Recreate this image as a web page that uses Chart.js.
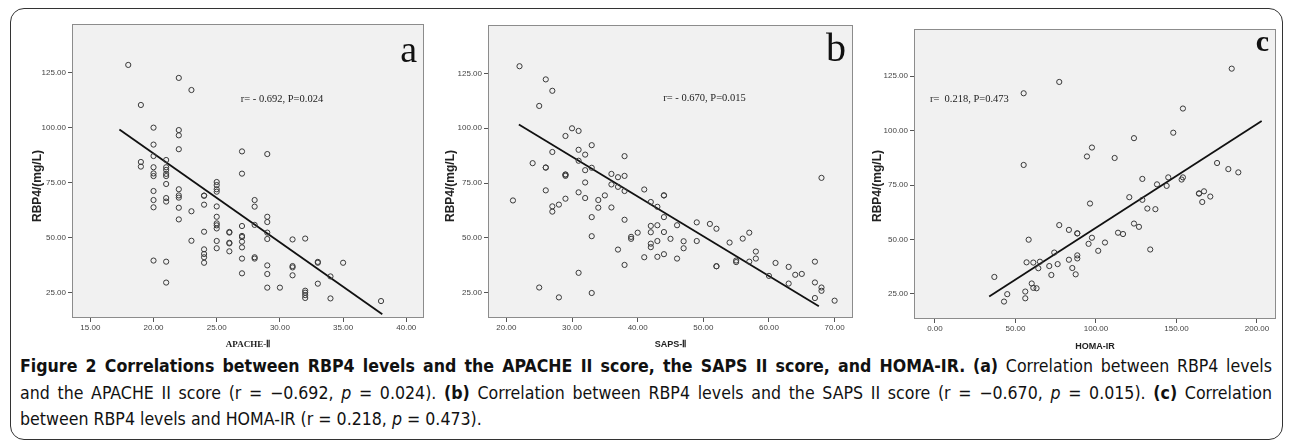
<!DOCTYPE html>
<html>
<head>
<meta charset="utf-8">
<script src="https://cdn.jsdelivr.net/npm/chart.js@4.4.0/dist/chart.umd.min.js"></script>
<style>
body{margin:0;background:#fff;width:1290px;height:445px;position:relative;overflow:hidden}
#frame{position:absolute;left:10px;top:8px;width:1273px;height:432px;border:1.5px solid #333;border-radius:14px;box-sizing:border-box}
.panel{position:absolute;top:0}
#caption{position:absolute;left:20px;top:353px;width:1252px;font-family:'Liberation Sans Narrow','DejaVu Sans Condensed',sans-serif;font-size:17.6px;color:#111}
#caption div{height:26.5px;line-height:26.5px;white-space:nowrap}
#caption .j{text-align:justify;text-align-last:justify}
</style>
</head>
<body>
<div id="frame"></div>
<canvas id="chartA" class="panel" width="420" height="352" style="left:20px"></canvas>
<canvas id="chartB" class="panel" width="430" height="352" style="left:440px"></canvas>
<canvas id="chartC" class="panel" width="420" height="352" style="left:870px"></canvas>
<div id="caption">
<div class="j"><b>Figure 2 Correlations between RBP4 levels and the APACHE II score, the SAPS II score, and HOMA-IR.</b> <b>(a)</b> Correlation between RBP4 levels</div>
<div class="j">and the APACHE II score (r = −0.692, <i>p</i> = 0.024). <b>(b)</b> Correlation between RBP4 levels and the SAPS II score (r = −0.670, <i>p</i> = 0.015). <b>(c)</b> Correlation</div>
<div>between RBP4 levels and HOMA-IR (r = 0.218, <i>p</i> = 0.473).</div>
</div>
<script>
// panel a : APACHE-II vs RBP4
const aX = [18,
	19,19,19,
	20,20,20,20,20,20,20,20,20,20,
	21,21,21,21,21,21,21,21,21,21,
	22,22,22,22,22,22,22,22,22,
	23,23,23,
	24,24,24,24,24,24,24,24,
	25,25,25,25,25,25,25,25,25,25,25,
	26,26,26,26,26,
	27,27,27,27,27,27,27,27,27,
	28,28,28,28,28,
	29,29,29,29,29,29,29,29,
	30,
	31,31,31,31,
	32,32,32,32,32,
	33,33,33,
	34,34,
	35,
	38];
const aY = [128.5,
	110.3,84.4,82.3,
	100,92.3,87.1,82,79.2,78,71.2,67.1,63.8,39.6,
	85.3,82,80.8,79,78,74.4,68,66.4,39.1,29.6,
	122.6,98.9,96.5,90.2,72,69.2,68.2,63.6,58.3,
	117.1,62,48.6,
	69.1,69.1,65,52.7,44.7,42.6,41.1,38.6,
	75.3,73.9,72,70.9,64.2,59.5,56.5,55.6,54.2,48.5,45.2,
	52.6,52.3,47.7,47.4,43.8,
	89.2,79.1,55.3,50.8,50.3,48.2,45.6,40.5,33.8,
	67.1,64.1,55.8,41.1,40.5,
	88,59.5,57.1,52.3,49.4,37.4,33.5,27.3,
	27.3,
	49.2,37.1,36.5,32.9,
	49.6,25.9,25,23.9,22.6,
	39,38.6,29.1,
	32.4,22.4,
	38.6,
	21.2];
const aFitX = [17.3, 38.1];
const aFitY = [99.2, 15.2];
const aTicksX = [15, 20, 25, 30, 35, 40];

// panel b : SAPS-II vs RBP4
const bX = [22,26,27,25,30,31,29,27,31,32,33,38,24,26,26,29,29,29,31,32,33,36,37,38,36,37,38,32,31,26,
	32,35,34,34,36,29,28,27,27,21,33,38,33,31,25,28,33,41,42,43,44,44,44,42,43,42,44,40,39,39,
	45,46,43,42,42,37,47,47,41,43,44,46,38,49,49,51,52,52,52,54,56,57,55,55,57,58,58,60,61,63,
	63,64,65,67,67,67,68,68,68,70];
const bY = [128.3,122.3,117.1,110.2,100,98.8,96.5,89.2,90.2,88,92.3,87.3,84.1,82.1,82.1,78.9,78.9,78.3,85.2,80.9,82,79.2,77.7,78.3,74.4,73.3,71.4,75.3,70.8,71.7,
	68.2,69.4,67.3,63.8,63.9,67.9,65.2,64.4,62,67.1,59.5,58.3,50.8,34.1,27.4,22.9,24.9,72.1,66.4,64.2,69.4,69.4,59.5,55.5,55.8,52.6,52.7,52.4,50.5,49.6,
	49.6,55.8,48.6,47.4,45.8,44.7,48.5,45.3,41.2,41.4,42.6,40.6,37.7,57.1,48.6,56.4,54.2,37.1,37.1,47.9,49.7,52.4,39.7,39,39.2,43.8,40.6,32.7,38.6,36.8,
	29.2,33.2,33.6,39.2,29.7,22.6,77.4,27.4,25.9,21.4];
const bFitX = [21.9, 67.6];
const bFitY = [101.7, 18.9];
const bTicksX = [20, 30, 40, 50, 60, 70];

// panel c : HOMA-IR vs RBP4
const cX = [184.3,77.2,55.1,154,148,123.6,97.5,94.4,111.6,55.1,175.2,182.2,188.4,128.8,144.9,154,153.2,137.9,143.9,164,164,167.1,171,166,
	120.7,128.8,96.3,131.9,136.9,123.6,126.7,77.2,83.2,88.4,88.4,113.7,116.8,58.2,97.5,95.4,105.6,101.4,133.7,74.1,88.4,88.4,
	56.9,61.1,65.2,64.2,71,76.2,83.2,85.3,72.3,87.4,36.9,60.1,61.1,63.1,56.1,56.1,44.9,42.9];
const cY = [128.4,122.3,117.1,110.1,99,96.5,92.2,88.1,87.4,84.2,85.1,82.3,80.8,77.8,78.5,78.5,77.5,75.3,74.6,71.1,71.1,72.1,69.7,67.2,
	69.4,68.2,66.5,64.2,63.9,57.3,55.8,56.6,54.4,52.8,52.8,53.1,52.5,49.9,50.8,48,48.6,44.8,45.4,44,42.7,41.3,
	39.5,39.4,39.8,36.8,37.8,38.7,40.7,36.9,33.7,34,32.8,29.8,27.8,27.6,26.1,23,24.9,21.5];
const cFitX = [33.7, 202.9];
const cFitY = [23.8, 104.4];
const cTicksX = [0, 50, 100, 150, 200];

const yTicks = [25, 50, 75, 100, 125];

const pts = (xs, ys) => xs.map((x, i) => ({x: x, y: ys[i]}));

// plot background, frame, panel letter, r/P note and rotated y title
const panelDecor = {
	id: 'panelDecor',
	beforeDraw(chart, args, o) {
		const a = chart.chartArea;
		const ctx = chart.ctx;
		ctx.save();
		ctx.fillStyle = '#f1f1f1';
		ctx.fillRect(a.left, a.top, a.right - a.left, a.bottom - a.top);
		ctx.restore();
	},
	afterDraw(chart, args, o) {
		const a = chart.chartArea;
		const ctx = chart.ctx;
		ctx.save();
		ctx.strokeStyle = '#8c8c8c';
		ctx.lineWidth = 1;
		ctx.strokeRect(a.left + 0.5, a.top + 0.5, a.right - a.left - 1, a.bottom - a.top - 1);

		ctx.fillStyle = '#111';
		ctx.font = o.letterFont;
		ctx.textAlign = 'right';
		ctx.textBaseline = 'alphabetic';
		ctx.fillText(o.letter, a.right - 7, a.top + o.letterDy);

		ctx.fillStyle = '#222';
		ctx.font = '10.5px "Liberation Serif", serif';
		ctx.textAlign = 'left';
		ctx.textBaseline = 'middle';
		ctx.fillText(o.note, chart.scales.x.getPixelForValue(o.noteX), chart.scales.y.getPixelForValue(o.noteY));

		ctx.translate(o.yTitleX, 186);
		ctx.rotate(-Math.PI / 2);
		ctx.font = 'bold 12px "Liberation Sans", Arial, sans-serif';
		ctx.textAlign = 'center';
		ctx.fillText('RBP4/(mg/L)', 0, 0);
		ctx.restore();
	}
};

function makePanel(id, cfg) {
	return new Chart(document.getElementById(id), {
		type: 'scatter',
		data: {
			datasets: [{
				data: cfg.points,
				pointRadius: 2.6,
				borderWidth: 1,
				borderColor: '#3a3a3a',
				backgroundColor: 'rgba(0,0,0,0)'
			}, {
				type: 'line',
				data: cfg.fit,
				borderColor: '#111',
				borderWidth: 1.8,
				pointRadius: 0,
				fill: false
			}]
		},
		options: {
			responsive: false,
			animation: false,
			layout: {padding: {left: 0, top: cfg.padTop, right: cfg.padRight, bottom: 0}},
			plugins: {
				legend: {display: false},
				tooltip: {enabled: false},
				panelDecor: cfg.decor
			},
			scales: {
				x: {
					type: 'linear',
					min: cfg.xMin,
					max: cfg.xMax,
					afterBuildTicks: s => { s.ticks = cfg.xTicks.map(v => ({value: v})); },
					afterFit: s => { s.height = cfg.xHeight; },
					grid: {drawOnChartArea: false, tickLength: 4, color: '#555'},
					border: {display: false},
					ticks: {
						autoSkip: false, maxRotation: 0, padding: 1, color: '#444',
						font: {family: 'Liberation Sans', size: 8},
						callback: v => v.toFixed(2)
					},
					title: {
						display: true, text: cfg.xTitle, color: '#222',
						font: cfg.xTitleFont, padding: {top: 0, bottom: cfg.xTitlePad}
					}
				},
				y: {
					type: 'linear',
					min: cfg.yMin,
					max: cfg.yMax,
					afterBuildTicks: s => { s.ticks = yTicks.map(v => ({value: v})); },
					afterFit: s => { s.width = cfg.yWidth; },
					grid: {drawOnChartArea: false, tickLength: 4, color: '#555'},
					border: {display: false},
					ticks: {
						autoSkip: false, padding: 2, color: '#444',
						font: {family: 'Liberation Sans', size: 8},
						callback: v => v.toFixed(2)
					}
				}
			}
		},
		plugins: [panelDecor]
	});
}

makePanel('chartA', {
	points: pts(aX, aY),
	fit: pts(aFitX, aFitY),
	xTicks: aTicksX,
	xMin: 13.55, xMax: 41.4, yMin: 13.5, yMax: 147.1,
	padTop: 24, padRight: 16, xHeight: 34, yWidth: 52,
	xTitle: 'APACHE-Ⅱ', xTitlePad: 2,
	xTitleFont: {family: 'Liberation Serif', size: 9, weight: 'bold'},
	decor: {letter: 'a', letterFont: '38px "Liberation Serif", serif', letterDy: 38,
		note: 'r= - 0.692, P=0.024', noteX: 26.9, noteY: 113, yTitleX: 18}
});

makePanel('chartB', {
	points: pts(bX, bY),
	fit: pts(bFitX, bFitY),
	xTicks: bTicksX,
	xMin: 17.2, xMax: 72.8, yMin: 13.5, yMax: 147.1,
	padTop: 25, padRight: 17, xHeight: 34, yWidth: 48,
	xTitle: 'SAPS-Ⅱ', xTitlePad: 2,
	xTitleFont: {family: 'Liberation Sans', size: 9, weight: 'bold'},
	decor: {letter: 'b', letterFont: '40px "Liberation Serif", serif', letterDy: 36,
		note: 'r= - 0.670, P=0.015', noteX: 43.9, noteY: 113.9, yTitleX: 11}
});

makePanel('chartC', {
	points: pts(cX, cY),
	fit: pts(cFitX, cFitY),
	xTicks: cTicksX,
	xMin: -13, xMax: 211.8, yMin: 13.5, yMax: 146.6,
	padTop: 29, padRight: 14, xHeight: 33, yWidth: 44,
	xTitle: 'HOMA-IR', xTitlePad: 0,
	xTitleFont: {family: 'Liberation Sans', size: 9, weight: 'bold'},
	decor: {letter: 'c', letterFont: 'bold 30px "Liberation Serif", serif', letterDy: 22,
		note: 'r=  0.218, P=0.473', noteX: -3.1, noteY: 114.5, yTitleX: 8}
});
</script>
</body>
</html>
